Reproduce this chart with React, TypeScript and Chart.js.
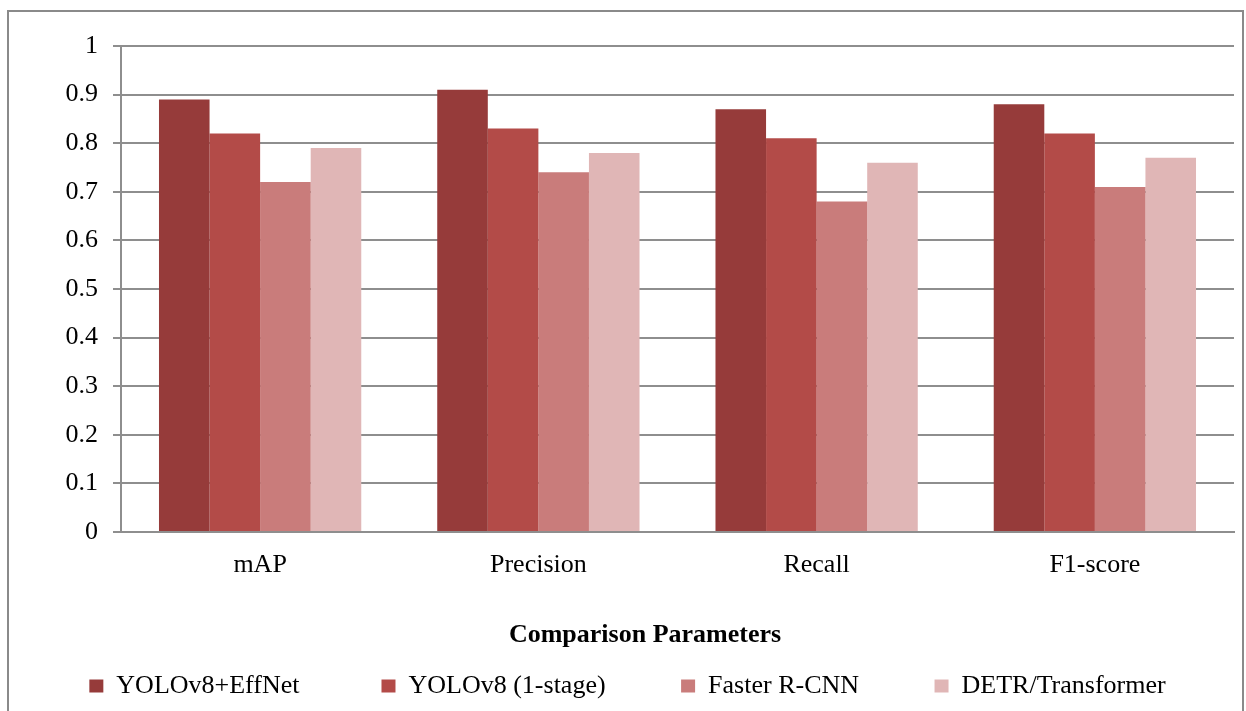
import React, { useEffect, useRef } from "react";
import { Chart, registerables } from "chart.js";

Chart.register(...registerables);

const categories = ["mAP", "Precision", "Recall", "F1-score"];
const seriesNames = ["YOLOv8+EffNet", "YOLOv8 (1-stage)", "Faster R-CNN", "DETR/Transformer"];
const yoloEffNet = [0.89, 0.91, 0.87, 0.88];
const yolo1Stage = [0.82, 0.83, 0.81, 0.82];
const fasterRcnn = [0.72, 0.74, 0.68, 0.71];
const detr = [0.79, 0.78, 0.76, 0.77];
const yTickLabels = ["0", "0.1", "0.2", "0.3", "0.4", "0.5", "0.6", "0.7", "0.8", "0.9", "1"];
const xAxisTitle = "Comparison Parameters";

const colors = ["#963B3A", "#B34B48", "#C97C7B", "#E0B6B6"];
const legendSpaces = [10, 9, 9, 0];
const titleSpaces = 10;
const FONT = "'Liberation Serif', 'Times New Roman', serif";
const GRID = "#8e8e8e";

export default function App() {
  const ref = useRef<HTMLCanvasElement | null>(null);
  useEffect(() => {
    if (!ref.current) return;
    const values = [yoloEffNet, yolo1Stage, fasterRcnn, detr];
    const chart = new Chart(ref.current, {
      type: "bar",
      data: {
        labels: categories,
        datasets: seriesNames.map((name, i) => ({
          label: name,
          data: values[i],
          backgroundColor: colors[i],
          borderWidth: 0,
          barPercentage: 1,
          categoryPercentage: 0.727,
        })),
      },
      options: {
        animation: false,
        responsive: false,
        devicePixelRatio: 1,
        layout: { padding: { left: 21, right: 12, top: 46, bottom: 2 } },
        plugins: {
          tooltip: { enabled: false },
          legend: {
            position: "bottom",
            labels: {
              font: { family: FONT, size: 26 },
              color: "#000",
              boxWidth: 14,
              boxHeight: 13,
              padding: 17,
              generateLabels: (c: any) =>
                c.data.datasets.map((ds: any, i: number) => ({
                  text: ds.label + "\u00a0".repeat(legendSpaces[i]),
                  fillStyle: colors[i],
                  strokeStyle: colors[i],
                  lineWidth: 0,
                  hidden: false,
                  datasetIndex: i,
                })),
            },
          },
        },
        scales: {
          x: {
            grid: { display: false, drawTicks: false, tickLength: 0 },
            border: { display: true, color: GRID, width: 2 },
            ticks: { font: { family: FONT, size: 26 }, color: "#000", padding: 18 },
            title: {
              display: true,
              text: xAxisTitle + "\u00a0".repeat(titleSpaces),
              font: { family: FONT, size: 26, weight: "bold" },
              color: "#000",
              padding: { top: 0, bottom: 5 },
            },
            afterFit: (s: any) => {
              s.height = 124;
            },
          },
          y: {
            min: 0,
            max: 1,
            grid: { color: GRID, lineWidth: 2, tickLength: 8, drawTicks: true },
            border: { display: true, color: GRID, width: 2 },
            ticks: {
              stepSize: 0.1,
              font: { family: FONT, size: 26 },
              color: "#000",
              padding: 15,
              callback: (_v: any, i: number) => yTickLabels[i],
            },
            afterFit: (s: any) => {
              s.width = 100;
            },
          },
        },
      },
    });
    return () => chart.destroy();
  }, []);

  return (
    <div style={{ position: "fixed", left: 0, top: 0, width: 1246, height: 711, overflow: "hidden", background: "#fff" }}>
      <canvas ref={ref} width={1246} height={711} style={{ position: "absolute", left: 0, top: 0, width: 1246, height: 711 }} />
      <div
        style={{
          position: "absolute",
          left: 7,
          top: 10,
          width: 1237,
          height: 760,
          border: "2px solid #8a8a8a",
          boxSizing: "border-box",
          pointerEvents: "none",
        }}
      />
    </div>
  );
}
